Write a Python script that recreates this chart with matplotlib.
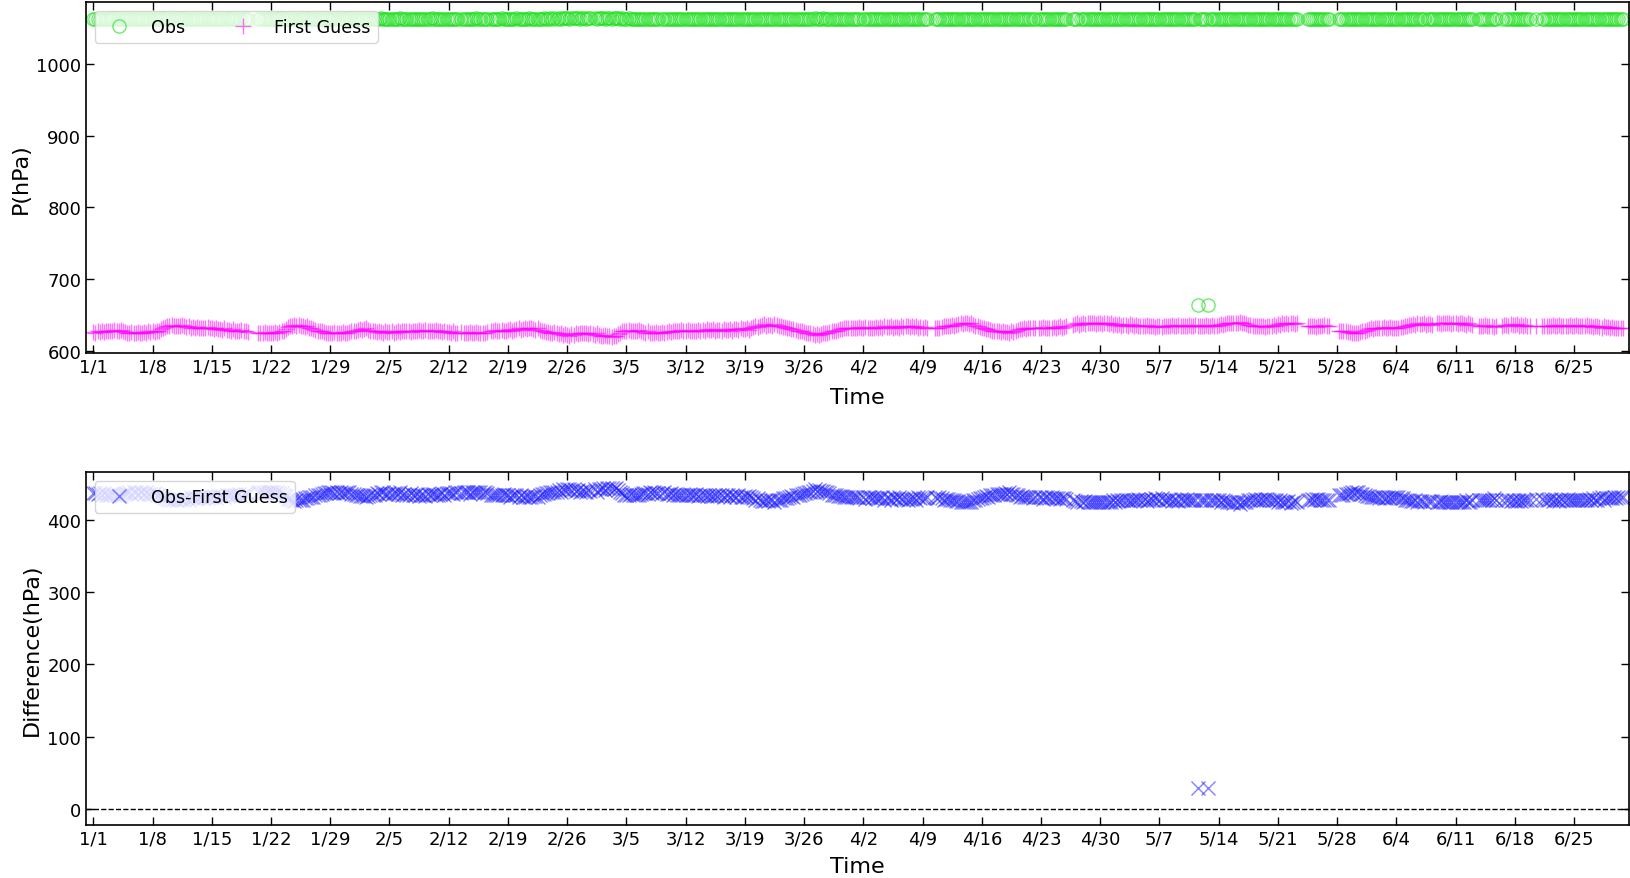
import numpy as np
import pandas as pd
import matplotlib
matplotlib.use("Agg")
import matplotlib.pyplot as plt
import matplotlib.dates as mdates

nan = np.nan

# 6-hourly first guess pressure (hPa), one line per week, 1/1 00Z .. 6/30 18Z
first_guess = [
    626, 625, 627, 626, 627, 626, 628, 627, 628, 627, 629, 628, 628, 629, 627, 626, 625, 624, 626, 625, 625, 626, 624, 625, 626, 625, 627, 626,
    627, 626, 628, 628, 630, 632, 633, 634, 635, 636, 634, 635, 635, 634, 636, 634, 633, 634, 632, 633, 632, 633, 631, 632, 632, 631, 633, 631,
    631, 630, 632, 630, 630, 629, 631, 629, 629, 628, 630, 628, 628, 627, 629, 627, 627, 626, nan, nan, nan, nan, 625, 624, 625, 626, 624, 625,
    625, 624, 626, 625, 626, 627, 628, 630, 633, 634, 635, 636, 635, 636, 634, 635, 633, 634, 632, 631, 630, 629, 628, 628, 627, 626, 625, 625,
    625, 624, 626, 625, 625, 624, 626, 625, 625, 626, 627, 627, 628, 629, 630, 629, 630, 631, 629, 628, 628, 627, 626, 627, 626, 625, 627, 626,
    626, 627, 625, 626, 627, 626, 628, 627, 627, 628, 626, 627, 628, 627, 629, 628, 628, 629, 627, 628, 628, 627, 629, 627, 627, 626, 628, 626,
    626, 625, 627, 625, 625, nan, 626, 624, 625, 624, 626, 625, 625, 626, 624, 625, 625, 624, 626, nan, 628, 627, 629, 628, 628, 629, 627, 628,
    629, 630, 628, 629, 630, 631, 629, 630, 631, 630, 632, 631, 630, 629, 631, 629, 627, 628, 626, 626, 625, 624, 626, 624, 623, 624, 622, 623,
    622, 621, 623, 622, 624, 623, 625, 624, 624, 625, 623, 624, 623, 622, 624, 622, 621, 620, 622, 620, 620, 619, 621, 620, 623, 625, 627, 628,
    628, 629, 627, 628, 628, 627, 629, 627, 626, 625, 627, 625, 625, 624, 626, 625, 625, 626, 624, 626, 627, 626, 628, 627, 628, 627, 629, 628,
    628, 629, 627, 628, 628, 627, 629, 628, 629, 628, 630, 629, 629, 630, 628, 629, 629, 628, 630, 629, 629, 630, 628, 630, 630, 629, 631, 630,
    630, 631, 629, 631, 633, 634, 633, 635, 636, 637, 635, 636, 636, 635, 637, 636, 635, 634, 633, 633, 632, 631, 630, 630, 629, 628, 627, 627,
    626, 625, 624, 624, 623, 622, 623, 622, 623, 624, 625, 625, 626, 627, 628, 628, 629, 630, 630, 631, 631, 632, 631, 632, 632, 631, 633, 632,
    632, 633, 631, 632, 632, 631, 633, 632, 633, 632, 634, 633, 633, 634, 632, 633, 633, 632, 634, 633, 634, 635, 633, 634, 633, 634, 632, 633,
    632, 633, 631, nan, nan, nan, 631, 632, 632, 633, 634, 634, 634, 635, 636, 635, 636, 637, 638, 637, 638, 639, 637, 638, 636, 635, 634, 633,
    632, 631, 630, 630, 629, 628, 628, 627, 627, 626, 627, 626, 626, 625, 627, 626, 628, 629, 630, 630, 631, 630, 632, 631, 632, 631, nan, 632,
    632, 633, 631, 632, 632, 631, 633, 632, 633, 634, 632, 633, 634, nan, nan, 636, 637, 638, 636, 637, 638, 637, 639, 638, 638, 639, 637, 638,
    638, 637, 639, 638, 637, 638, 636, 637, 636, 637, 635, 636, 636, 635, 637, 636, 635, 636, 634, 635, 635, 634, 636, 635, 634, 635, 633, 634,
    634, 633, 635, 634, 635, 634, 636, 635, 635, 636, 634, 635, 635, 634, 636, 635, 635, 636, 634, 635, 635, 634, 636, 635, 635, 636, 634, 635,
    636, 637, 636, 637, 638, 639, 638, 639, 639, 638, 640, 639, 638, 637, 636, 636, 635, 634, 635, 634, 634, 635, 633, 634, 635, 634, 636, 635,
    637, 636, 638, 637, 638, 637, 639, 638, 637, 638, nan, nan, nan, nan, 635, 634, 634, 635, 633, 634, 635, 634, 636, 635, 634, nan, nan, nan,
    nan, 628, 627, 628, 627, 626, 626, 625, 625, 624, 625, 626, 627, 628, 629, 630, 631, 630, 632, 631, 632, 631, 633, 632, 632, 633, 631, 632,
    632, 631, 633, 633, 634, 635, 636, 636, 637, 636, 638, 637, 637, 638, 636, 637, 637, 636, nan, 638, 638, 637, 639, 638, 638, 639, 637, 638,
    638, 637, 639, 638, 637, 636, 638, 637, 636, nan, nan, 635, 635, 634, 636, 635, 634, 635, 633, 634, nan, nan, 635, 636, 636, 635, 637, 636,
    636, 637, 635, 636, 635, 636, 634, 635, nan, nan, 634, nan, nan, 634, 635, 634, 635, 634, 636, 635, 635, 636, 634, 635, 635, 634, 636, 635,
    635, 636, 634, 635, 635, 634, 636, 634, 634, 633, 635, 634, 633, 632, 634, 633, 633, 632, 633, 632, 632, 631, 632, 631,
]

# 6-hourly observed pressure (hPa), same times
obs = [
    1063, 1062, 1063, 1063, 1062, 1063, 1063, 1062, 1063, 1063, 1064, 1063, 1063, 1062, 1063, 1063, 1062, 1063, 1062, 1063, 1063, 1062, 1063, 1063, 1062, 1063, 1063, 1062,
    1063, 1063, 1062, 1063, 1063, 1064, 1063, 1063, 1062, 1063, 1063, 1062, 1063, 1063, 1064, 1063, 1063, 1062, 1063, 1063, 1063, 1062, 1063, 1063, 1062, 1063, 1063, 1062,
    1063, 1063, 1062, 1063, 1063, 1062, 1063, 1063, 1064, 1063, 1063, 1062, 1063, 1063, 1062, 1063, 1063, 1062, nan, nan, nan, nan, 1063, 1062, 1063, 1063, 1062, 1063,
    1063, 1062, 1063, 1063, 1063, 1064, 1063, 1063, 1062, 1063, 1063, 1062, 1063, 1063, 1062, 1063, 1063, 1064, 1063, 1063, 1062, 1063, 1063, 1062, 1063, 1063, 1062, 1063,
    1063, 1062, 1063, 1063, 1062, 1063, 1063, 1062, 1063, 1064, 1063, 1063, 1062, 1063, 1063, 1062, 1063, 1063, 1062, 1063, 1063, 1062, 1063, 1063, 1064, 1063, 1063, 1062,
    1063, 1063, 1062, 1063, 1063, 1064, 1063, 1063, 1062, 1063, 1063, 1062, 1063, 1063, 1062, 1063, 1063, 1062, 1063, 1063, 1064, 1063, 1063, 1062, 1063, 1063, 1062, 1063,
    1063, 1062, 1063, 1063, 1063, nan, 1063, 1062, 1063, 1063, 1062, 1063, 1063, 1064, 1063, 1063, 1062, 1063, 1063, nan, 1063, 1062, 1063, 1063, 1063, 1064, 1063, 1063,
    1063, 1062, 1063, 1063, 1064, 1063, 1063, 1062, 1063, 1063, 1064, 1063, 1063, 1062, 1063, 1063, 1063, 1064, 1063, 1063, 1064, 1063, 1064, 1063, 1064, 1063, 1064, 1064,
    1064, 1063, 1064, 1064, 1064, 1064, 1063, 1064, 1064, 1063, 1064, 1064, nan, 1064, 1063, 1064, 1064, 1064, 1063, 1064, 1064, 1063, 1064, 1064, 1064, 1063, 1064, 1063,
    1063, 1064, 1063, 1063, 1063, 1062, 1063, 1063, 1063, 1062, 1063, 1063, 1062, 1063, 1063, 1062, nan, 1063, 1063, 1062, 1063, 1063, 1062, 1063, 1063, 1062, 1063, 1063,
    1062, 1063, 1063, 1062, 1063, 1063, 1062, 1063, 1063, 1062, 1063, 1063, 1062, 1063, 1063, 1062, 1063, 1063, 1062, 1063, 1063, 1062, 1063, 1063, 1062, 1063, 1063, 1062,
    1063, 1063, 1062, 1063, 1063, 1062, 1063, 1063, 1062, 1063, 1063, 1062, 1063, 1063, 1062, 1063, 1063, 1062, 1063, 1063, 1062, 1063, 1063, 1062, 1063, 1063, 1062, 1063,
    1063, 1062, 1063, 1063, 1063, 1064, 1063, 1063, 1063, 1064, 1063, 1063, 1063, 1062, 1063, 1063, 1062, 1063, 1063, 1062, 1063, 1063, 1062, 1063, 1063, 1062, 1063, nan,
    1063, 1062, 1063, 1063, 1062, 1063, 1063, 1062, 1063, 1063, 1062, 1063, 1063, 1062, 1063, 1063, 1062, 1063, 1063, 1062, 1063, 1063, 1062, 1063, 1063, 1062, 1063, 1063,
    1062, 1063, 1063, nan, nan, nan, 1063, 1062, 1063, 1063, 1062, 1063, 1063, 1062, 1063, 1063, 1062, 1063, 1063, 1062, 1063, 1063, 1062, 1063, 1063, 1062, 1063, 1063,
    1062, 1063, 1063, 1062, 1063, 1063, 1062, 1063, 1063, 1062, 1063, 1063, 1062, 1063, 1063, 1062, 1063, 1063, 1062, 1063, 1063, 1062, 1063, 1063, 1062, 1063, nan, 1063,
    1063, 1062, 1063, 1063, 1062, 1063, 1063, 1062, 1063, 1063, 1062, 1063, 1063, nan, nan, 1063, 1063, 1062, nan, 1063, 1062, 1063, 1063, 1062, 1063, 1063, 1062, 1063,
    1063, 1062, 1063, 1063, 1062, 1063, 1063, 1062, 1063, 1063, 1062, 1063, 1063, 1062, 1063, 1063, 1062, 1063, 1063, 1062, 1063, 1063, 1062, 1063, 1063, 1062, 1063, 1063,
    1062, 1063, 1063, 1062, 1063, 1063, 1062, 1063, 1063, 1062, 1063, 1063, 1062, 1063, 1063, 1062, 1063, 1063, 663, 1063, 1063, 1062, 1063, 664, 1063, 1063, 1062, 1063,
    1063, 1062, 1063, 1063, 1062, 1063, 1063, 1062, 1063, 1063, 1062, 1063, 1063, 1062, 1063, 1063, 1062, 1063, 1063, 1062, 1063, 1063, 1062, 1063, 1063, 1062, 1063, 1063,
    1062, 1063, 1063, 1062, 1063, 1063, 1062, 1063, 1063, 1062, nan, nan, nan, nan, 1063, 1062, 1063, 1063, 1062, 1063, 1063, 1062, 1063, 1063, 1062, nan, nan, nan,
    nan, 1063, 1062, 1063, 1063, 1062, 1063, 1063, 1062, 1063, 1063, 1062, 1063, 1063, 1062, 1063, 1063, 1062, 1063, 1063, 1062, 1063, 1063, 1062, 1063, 1063, 1062, 1063,
    1063, 1062, 1063, 1063, 1062, 1063, 1063, 1062, 1063, 1063, 1062, 1063, 1063, 1062, nan, 1063, 1063, 1062, 1063, 1063, 1062, 1063, 1063, 1062, 1063, 1063, 1062, 1063,
    1063, 1062, 1063, 1063, 1062, 1063, 1063, 1062, 1063, nan, nan, 1063, 1063, 1062, 1063, 1063, 1062, 1063, 1063, 1062, nan, nan, 1063, nan, 1063, 1062, 1063, 1063,
    1062, 1063, 1063, 1062, 1063, 1063, 1062, 1063, nan, nan, 1063, nan, nan, 1063, 1063, 1062, 1063, 1063, 1062, 1063, 1063, 1062, 1063, 1063, 1062, 1063, 1063, 1062,
    1063, 1063, 1062, 1063, 1063, 1062, 1063, 1063, 1062, 1063, 1063, 1062, 1063, 1063, 1062, 1063, 1063, 1062, 1063, 1063, 1062, 1063, 1063, 1062,
]

times = pd.date_range("2023-01-01", periods=len(first_guess), freq="6h")
fg = np.array(first_guess, dtype=float)
ob = np.array(obs, dtype=float)
diff = ob - fg

tick_dates = pd.date_range("2023-01-01", "2023-06-25", freq="7D")
x0 = mdates.date2num(pd.Timestamp("2023-01-01"))

fig = plt.figure(figsize=(16.3, 8.79), dpi=100)
ax1 = fig.add_axes([0.0528, 0.5973, 0.9466, 0.3993])
ax2 = fig.add_axes([0.0528, 0.0603, 0.9466, 0.4016])

ok = ~np.isnan(ob)
ax1.plot(times[ok], ob[ok], "o", mfc="none", mec="#22e022", mew=1.0, ms=9.5, alpha=0.65, label="Obs")
ok = ~np.isnan(fg)
ax1.plot(times[ok], fg[ok], "+", color="#ff00ff", mew=1.0, ms=11, alpha=0.55, label="First Guess")
ax1.set_ylabel("P(hPa)", fontsize=16)
ax1.legend(loc="upper left", ncol=2, fontsize=12.6, columnspacing=2.3)

ok = ~np.isnan(diff)
ax2.plot(times[ok], diff[ok], "x", color="#1a1aff", mew=1.0, ms=10, alpha=0.55, label="Obs-First Guess")
ax2.axhline(0, color="k", ls="--", lw=1)
ax2.set_ylabel("Difference(hPa)", fontsize=16)
ax2.legend(loc="upper left", fontsize=12.6)

for ax in (ax1, ax2):
    ax.set_xlim(x0 - 0.86, x0 + 181.5)
    ax.set_xticks(tick_dates)
    ax.xaxis.set_major_formatter(plt.FuncFormatter(
        lambda v, pos: "%d/%d" % (mdates.num2date(v).month, mdates.num2date(v).day)))
    ax.tick_params(direction="in", top=True, right=True, labelsize=13, length=6, width=1)
    for s in ax.spines.values():
        s.set_linewidth(1.2)
ax1.set_xlabel("Time", fontsize=16, labelpad=8)
ax2.set_xlabel("Time", fontsize=16, labelpad=6)

fig.savefig("out.png", dpi=100)
